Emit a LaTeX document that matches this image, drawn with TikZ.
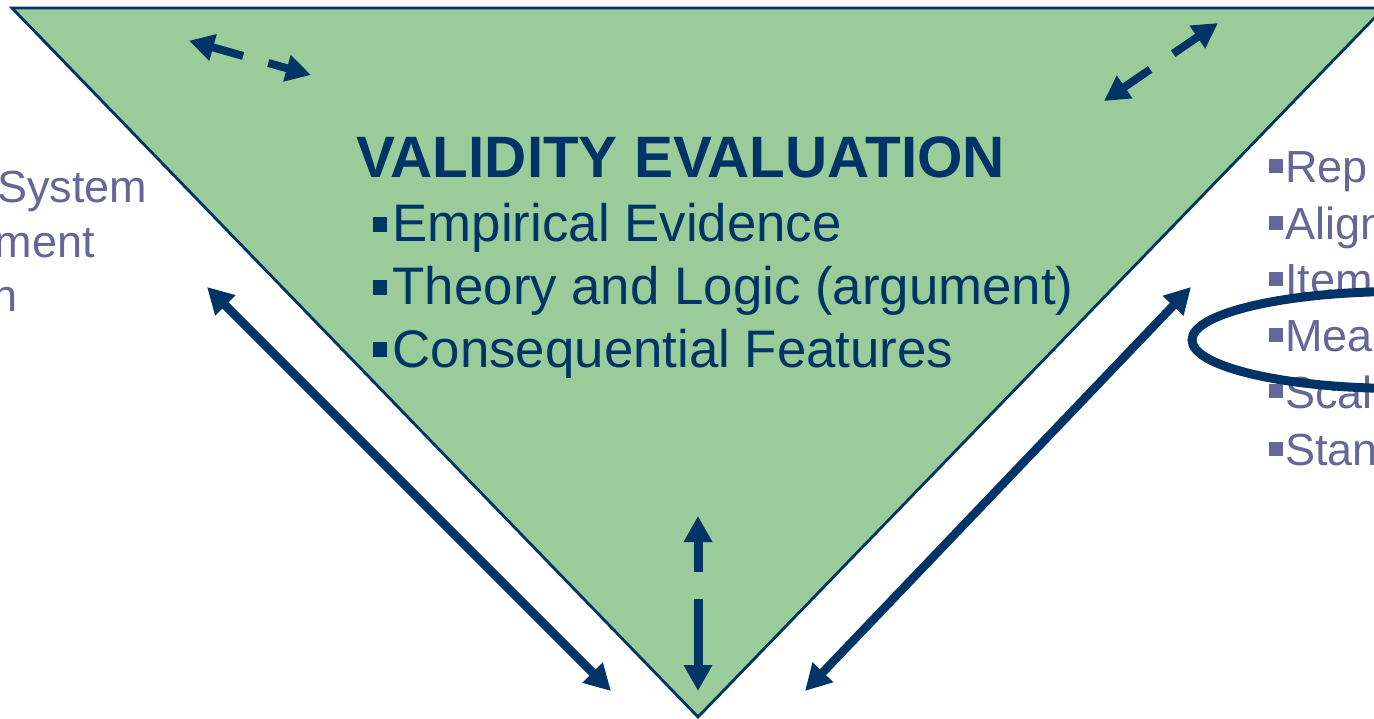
\documentclass[tikz,border=0pt]{standalone}
\usepackage{fontspec}
\setmainfont{Liberation Sans}
\usetikzlibrary{arrows.meta,calc}

\definecolor{navy}{HTML}{003366}
\definecolor{leaf}{HTML}{99CC99}
\definecolor{slate}{HTML}{666699}

% square bullets drawn as rules in the current text colour
\newcommand\mainbullet{\rule[10.3pt]{14pt}{15pt}\hspace{5.5pt}}
\newcommand\sidebullet{\rule[9.5pt]{14pt}{14pt}\hspace{2pt}}

\tikzset{
  heading/.style={anchor=base west, inner sep=0pt, text=navy,
    font=\fontsize{58.4}{68}\selectfont\bfseries},
  mainitem/.style={anchor=base west, inner sep=0pt, text=navy,
    font=\fontsize{52.8}{62}\selectfont},
  sideitem/.style={anchor=base west, inner sep=0pt, text=slate,
    font=\fontsize{45}{53}\selectfont},
  longarrow/.style={draw=navy, line width=8.5pt,
    {Triangle[length=26pt,width=27pt]}-{Triangle[length=26pt,width=27pt]}},
  halfarrow/.style={draw=navy, line width=8pt,
    -{Triangle[length=25pt,width=26pt]}},
  vhalfarrow/.style={draw=navy, line width=9pt,
    -{Triangle[length=26pt,width=27pt]}},
}

\begin{document}
\begin{tikzpicture}[x=1pt, y=-1pt]
  \useasboundingbox (0,0) rectangle (1374,719);
  \clip (0,0) rectangle (1374,719);

  % inverted triangle
  \coordinate (tl) at (12,8);
  \coordinate (tr) at (1384,8);
  \coordinate (apex) at (698,717);
  \path[fill=leaf, draw=navy, line width=2.8pt, line join=miter]
    (tl) -- (tr) -- (apex) -- cycle;

  % centre text
  \node[heading] (title) at (356,178) {VALIDITY EVALUATION};
  \node[mainitem] (emp) at (373,242) {\mainbullet Empirical Evidence};
  \node[mainitem] (the) at (373,305) {\mainbullet Theory and Logic (argument)};
  \node[mainitem] (con) at (373,367) {\mainbullet Consequential Features};

  % left side text
  \node[sideitem] (l1) at (-3,203) {System};
  \node[sideitem] (l2) at (-5.5,258) {ment};
  \node[sideitem] (l3) at (-8,312) {n};

  % right side list
  \node[sideitem] (r1) at (1269,183) {\sidebullet Rep};
  \node[sideitem] (r2) at (1269,240) {\sidebullet Align};
  \node[sideitem] (r3) at (1269,296) {\sidebullet Item};
  \node[sideitem] (r4) at (1269,352) {\sidebullet Mea};
  \node[sideitem] (r5) at (1269,408) {\sidebullet Scal};
  \node[sideitem] (r6) at (1269,465) {\sidebullet Stan};

  % dashed double arrow, upper left
  \coordinate (ulA) at (189,40.7);
  \coordinate (ulB) at (311,75);
  \draw[halfarrow] ($(ulA)!0.444!(ulB)$) -- (ulA);
  \draw[halfarrow] ($(ulA)!0.65!(ulB)$) -- (ulB);

  % dashed double arrow, upper right
  \coordinate (urA) at (1104,101);
  \coordinate (urB) at (1218,23);
  \draw[halfarrow] ($(urA)!0.405!(urB)$) -- (urA);
  \draw[halfarrow] ($(urA)!0.607!(urB)$) -- (urB);

  % dashed double arrow, centre
  \coordinate (vA) at (698,516);
  \coordinate (vB) at (698,691);
  \draw[vhalfarrow] ($(vA)!0.32!(vB)$) -- (vA);
  \draw[vhalfarrow] ($(vA)!0.474!(vB)$) -- (vB);

  % long arrows along the sides
  \coordinate (lA) at (207,287);
  \coordinate (lB) at (611,691);
  \draw[longarrow] (lA) -- (lB);
  \coordinate (rA) at (1191,287);
  \coordinate (rB) at (805,691);
  \draw[longarrow] (rA) -- (rB);

  % highlight ring
  \draw[navy, line width=9pt] (1400,340) ellipse [x radius=208, y radius=48.5];
\end{tikzpicture}
\end{document}
